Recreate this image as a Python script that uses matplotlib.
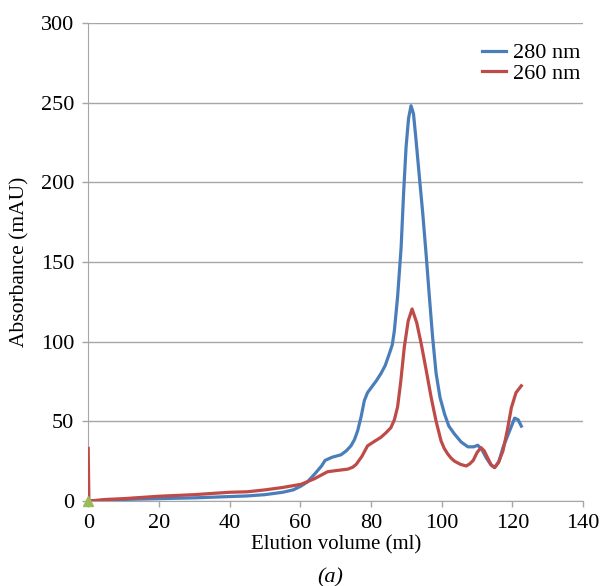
import matplotlib.pyplot as plt

plt.rcParams['font.family'] = ['Liberation Serif', 'DejaVu Serif']

# elution volume (ml) and absorbance (mAU)
vol_280 = [0, 5, 10, 20, 30, 40, 45, 50, 55, 58, 60.2, 62, 64, 66, 67, 69, 71.5, 73, 74.3, 75.3,
           76.2, 77.2, 78.1, 79, 80, 81.5, 82.8, 84, 85.1, 86, 86.6, 87.5, 88.5, 89.2, 89.9, 90.6,
           91.3, 92, 92.7, 93.6, 94.6, 95.6, 96.5, 97.4, 98.4, 99.5, 100.8, 102, 103.6, 105.5,
           107.4, 109, 110.2, 111.4, 112.6, 113.8, 115, 116.2, 117.3, 119, 120.6, 121.6, 122.5]
abs_280 = [0, 0.5, 1, 1.5, 2, 2.8, 3.2, 4, 5.5, 7, 9.4, 12, 16.8, 22, 25.5, 27.5, 29, 31.5, 34.6, 38.5,
           44, 53, 63, 68, 71, 75.5, 80, 85, 92, 98, 107, 128, 159, 193, 222, 240,
           248, 243, 227, 205, 181, 154, 128, 103, 80, 65, 54.5, 47, 42, 37,
           34, 34, 35, 32, 27, 23, 21, 25, 33.5, 43, 52, 51, 47]

vol_260 = [0, 0.2, 5, 10, 20, 30, 40, 45, 50, 55, 60.2, 64, 67.7, 70.5, 73.4, 74.8, 75.8, 77.4,
           79, 81, 82.8, 84.3, 85.6, 86.6, 87.5, 88.4, 89.4, 90.5, 91.6, 92.9, 94.2, 95.6, 97,
           98.4, 99.8, 100.7, 101.7, 102.6, 103.6, 105.3, 106.9, 107.9, 108.9, 110, 111.1, 112, 113,
           114, 114.9, 116, 117.3, 118.5, 119.7, 121, 122.5]
abs_260 = [33, 0, 1, 1.5, 3, 4, 5.5, 5.8, 7, 8.5, 10.5, 14, 18.4, 19.2, 20, 21.2, 23, 28,
           34.6, 37.5, 40, 43, 46, 51, 59, 75, 96.5, 113, 120.5, 112, 98.5, 82, 65,
           50, 37.7, 33, 29.5, 27, 25, 23, 22, 23.3, 25.5, 30.5, 33.5, 31.5, 27,
           22.5, 21, 24, 31.4, 44, 58.7, 68, 72.3]

blue = '#4a7ebb'
red = '#be4b48'

fig = plt.figure(figsize=(6, 5.86), dpi=100)
ax = fig.add_axes([0.147, 0.145, 0.825, 0.816])

ax.plot(vol_280, abs_280, color=blue, lw=2.3, label='280 nm', zorder=3, solid_joinstyle='round')
ax.plot(vol_260, abs_260, color=red, lw=2.3, label='260 nm', zorder=3, solid_joinstyle='round')
ax.plot([0], [0], marker='^', color='#9bbb59', ms=7, zorder=4, clip_on=False)

ax.set_xlim(0, 140)
ax.set_ylim(0, 300)
ax.set_xticks(range(0, 141, 20))
ax.set_yticks(range(0, 301, 50))
ax.tick_params(length=4, width=1, color='#a6a6a6', labelsize=16)
ax.tick_params(axis='y', pad=6)
ax.tick_params(axis='x', pad=5)
ax.grid(axis='y', color='#a6a6a6', lw=1)
ax.set_axisbelow(True)
for s in ['top', 'right']:
    ax.spines[s].set_visible(False)
for s in ['left', 'bottom']:
    ax.spines[s].set_color('#a6a6a6')

ax.set_xlabel('Elution volume (ml)', fontsize=15, labelpad=2)
ax.set_ylabel('Absorbance (mAU)', fontsize=15.5, labelpad=8)
ax.legend(loc='upper right', frameon=False, fontsize=16, handlelength=1.1,
          labelspacing=0.0, bbox_to_anchor=(1.035, 1.0), handletextpad=0.3)

fig.text(0.55, 0.014, '(a)', fontsize=16, style='italic', ha='center', va='center')

fig.savefig('out.png', dpi=100)
